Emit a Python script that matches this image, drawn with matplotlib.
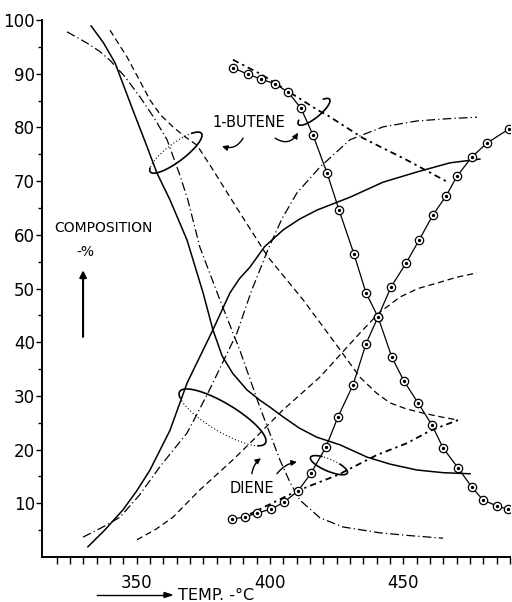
import numpy as np
import matplotlib.pyplot as plt
from matplotlib.transforms import IdentityTransform

plt.rcParams['font.family'] = ['DejaVu Sans']

# falling curves (1-butene)
but_solid_t = [332.9, 337.5, 341.9, 348.6, 353.9, 357.6, 362.5, 368.9, 374.9, 378.6,
               382.0, 386.0, 391.4, 396.2, 400.0, 404.9, 411.0, 417.6, 426.2, 436.4,
               445.0, 455.1, 465.0, 475.0]
but_solid_v = [98.9, 95.8, 92.0, 83.2, 76.4, 71.5, 66.5, 59.0, 49.2, 42.3,
               37.5, 34.2, 31.1, 29.2, 27.9, 26.1, 24.0, 22.3, 20.9, 18.6,
               17.3, 16.2, 15.7, 15.5]

but_dashdot_t = [323.9, 331.4, 336.0, 340.0, 345.5, 351.2, 356.5, 361.4, 366.2, 369.2,
                 373.7, 381.2, 388.7, 396.2, 403.7, 407.5, 411.2, 418.7, 427.3, 441.2,
                 452.0, 464.9]
but_dashdot_v = [97.8, 95.7, 94.2, 92.5, 89.5, 85.7, 81.8, 77.7, 71.1, 66.5,
                 57.7, 47.9, 38.5, 27.9, 18.1, 13.9, 10.6, 7.3, 5.6, 4.5,
                 4.0, 3.5]

but_dashed_t = [340.0, 346.4, 350.5, 355.0, 359.0, 363.6, 368.0, 372.6, 378.5, 385.0,
                399.2, 412.4, 423.6, 433.7, 440.0, 445.0, 451.0, 457.4, 464.0, 470.5]
but_dashed_v = [98.1, 93.1, 89.3, 85.1, 82.3, 80.1, 78.3, 76.7, 72.2, 67.0,
                55.9, 47.9, 40.4, 33.5, 30.5, 28.7, 27.6, 26.8, 26.1, 25.5]

but_circ_t = [386.1, 391.7, 396.6, 401.9, 406.7, 411.6, 416.1, 421.4, 425.9, 431.5,
              436.0, 440.5, 445.7, 450.2, 455.5, 460.7, 464.9, 470.5, 475.7, 479.9,
              485.1, 489.2]
but_circ_v = [91.1, 89.9, 89.0, 88.1, 86.6, 83.6, 78.6, 71.5, 64.6, 56.4,
              49.2, 44.7, 37.2, 32.8, 28.7, 24.6, 20.3, 16.6, 13.0, 10.6,
              9.5, 8.9]

but_dotdash_t = [386.1, 397.0, 407.5, 418.0, 421.4, 434.9, 451.4, 466.7]
but_dotdash_v = [92.6, 89.8, 86.5, 83.2, 82.3, 78.0, 73.9, 69.8]

# rising curves (diene)
die_solid_t = [331.7, 338.0, 344.9, 350.0, 355.0, 362.5, 368.9, 378.6, 385.0, 388.5,
               392.5, 398.0, 404.9, 411.0, 417.6, 430.0, 442.4, 455.1, 467.5, 478.7]
die_solid_v = [1.9, 5.0, 8.8, 12.3, 16.2, 23.6, 32.4, 42.3, 49.2, 51.8,
               54.0, 57.8, 60.9, 62.9, 64.6, 67.0, 69.8, 71.7, 73.4, 74.1]

die_dashdot_t = [329.9, 337.0, 343.7, 351.0, 358.7, 368.9, 376.4, 387.6, 393.0, 399.2,
                 404.5, 410.1, 418.7, 430.0, 442.4, 455.1, 466.0, 477.6]
die_dashdot_v = [3.7, 5.5, 7.4, 11.5, 16.8, 23.1, 30.2, 41.7, 49.5, 57.2,
                 63.0, 67.8, 72.6, 77.7, 80.1, 81.2, 81.6, 81.9]

die_dashed_t = [350.1, 357.0, 363.6, 373.7, 386.1, 392.5, 404.9, 418.7, 433.7, 441.0,
                448.7, 455.5, 462.6, 470.0, 477.6]
die_dashed_v = [3.2, 5.1, 7.4, 12.5, 18.1, 21.2, 27.4, 33.5, 41.7, 45.5,
                48.4, 50.0, 51.0, 52.1, 52.9]

die_circ_t = [385.7, 390.6, 395.1, 400.4, 405.2, 410.5, 415.4, 421.0, 425.5, 431.1,
              436.0, 440.5, 445.4, 451.0, 455.9, 461.1, 466.0, 470.1, 475.7, 481.4, 489.6]
die_circ_v = [7.1, 7.4, 8.2, 8.9, 10.2, 12.3, 15.6, 20.5, 26.1, 32.0,
              39.7, 44.7, 50.3, 54.7, 59.0, 63.7, 67.2, 70.9, 74.5, 77.1, 79.7]

die_dotdash_t = [392.5, 410.1, 425.5, 440.1, 451.4, 460.0, 470.5]
die_dotdash_v = [8.0, 12.3, 15.3, 19.0, 21.2, 23.5, 25.5]

DASHED = (0, (5, 3))
DASHDOT = (0, (7, 2.5, 1, 2.5))
DOTDASH = (0, (3.5, 2.2, 1.3, 2.2))


def loop(ax, t, v, a, b, ang, th0, th1, **kw):
    # ellipse drawn in pixels around a data point
    cx, cy = ax.transData.transform((t, v))
    th = np.radians(np.linspace(th0, th1, 120))
    r = np.radians(ang)
    x = cx + a * np.cos(th) * np.cos(r) - b * np.sin(th) * np.sin(r)
    y = cy + a * np.cos(th) * np.sin(r) + b * np.sin(th) * np.cos(r)
    ax.plot(x, y, transform=IdentityTransform(), clip_on=False, color='k', **kw)


def circles(ax, t, v):
    ax.plot(t, v, color='k', lw=0.9, marker='o', ms=6, mfc='white', mec='k', mew=0.9)
    ax.plot(t, v, ls='none', marker='o', ms=1.4, color='k')


fig = plt.figure(figsize=(5.12, 6.02), dpi=100)
ax = fig.add_axes([42 / 512, 45 / 602, 468 / 512, 537 / 602])
ax.set_xlim(314.5, 490)
ax.set_ylim(0, 100)
ax.set_autoscale_on(False)

lw = 1.1
ax.plot(but_solid_t, but_solid_v, color='k', lw=lw)
ax.plot(but_dashdot_t, but_dashdot_v, color='k', lw=0.9, ls=DASHDOT)
ax.plot(but_dashed_t, but_dashed_v, color='k', lw=0.9, ls=DASHED)
ax.plot(but_dotdash_t, but_dotdash_v, color='k', lw=1.3, ls=DOTDASH)
circles(ax, but_circ_t, but_circ_v)

ax.plot(die_solid_t, die_solid_v, color='k', lw=lw)
ax.plot(die_dashdot_t, die_dashdot_v, color='k', lw=0.9, ls=DASHDOT)
ax.plot(die_dashed_t, die_dashed_v, color='k', lw=0.9, ls=DASHED)
ax.plot(die_dotdash_t, die_dotdash_v, color='k', lw=1.3, ls=DOTDASH)
circles(ax, die_circ_t, die_circ_v)

# grouping loops
loop(ax, 364.7, 75.3, 32, 9, 37, 40, -200, lw=1.2)
loop(ax, 364.7, 75.3, 32, 9, 37, 40, 160, lw=0.8, ls=(0, (1, 2)))
loop(ax, 382.2, 26.0, 50, 14, -31, 200, -25, lw=1.2)
loop(ax, 382.2, 26.0, 50, 14, -31, -25, -160, lw=0.8, ls=(0, (1, 2)))
loop(ax, 416.5, 82.9, 20, 6, 39, 150, 400, lw=1.2)
loop(ax, 422.1, 17.1, 20, 6, -23, 120, 420, lw=1.2)
loop(ax, 422.1, 17.1, 20, 6, -23, 60, 120, lw=0.8, ls=(0, (1, 2)))

ax.text(392.1, 81.0, '1-BUTENE', fontsize=10.5, ha='center', va='center')
ax.text(393.2, 12.8, 'DIENE', fontsize=10.5, ha='center', va='center')
ax.text(337.7, 61.3, 'COMPOSITION', fontsize=10, ha='center', va='center')
ax.text(330.6, 56.8, '-%', fontsize=10, ha='center', va='center')

arr = dict(arrowstyle='-|>', color='k', lw=1.0, mutation_scale=8, shrinkA=0, shrinkB=0)
ax.annotate('', xy=(382.0, 76.5), xytext=(389.9, 78.0),
            arrowprops=dict(arr, connectionstyle='arc3,rad=-0.4'))
ax.annotate('', xy=(410.5, 79.0), xytext=(401.9, 78.0),
            arrowprops=dict(arr, connectionstyle='arc3,rad=0.5'))
ax.annotate('', xy=(396.6, 18.4), xytext=(393.2, 15.5),
            arrowprops=dict(arr, connectionstyle='arc3,rad=-0.2'))
ax.annotate('', xy=(410.1, 17.7), xytext=(402.6, 15.5),
            arrowprops=dict(arr, connectionstyle='arc3,rad=-0.2'))
ax.annotate('', xy=(329.9, 53.4), xytext=(329.9, 41.0),
            arrowprops=dict(arr, lw=1.5, mutation_scale=10))

# x label with arrow
fig.text(178 / 512, 7 / 602, 'TEMP. -°C', fontsize=11.5, ha='left', va='center')
fig.add_artist(plt.Line2D([97 / 512, 166 / 512], [7 / 602, 7 / 602], color='k', lw=1.0))
fig.patches.append(plt.Polygon([[164 / 512, 4.5 / 602], [172 / 512, 7 / 602], [164 / 512, 9.5 / 602]],
                               closed=True, color='k', transform=fig.transFigure, figure=fig))

for s in ['top', 'right']:
    ax.spines[s].set_visible(False)
for s in ['left', 'bottom']:
    ax.spines[s].set_linewidth(1.4)

ax.set_xticks([350, 400, 450])
ax.set_xticks(np.arange(320, 491, 5), minor=True)
ax.set_yticks(np.arange(10, 101, 10))
ax.set_yticks(np.arange(5, 100, 10), minor=True)
ax.tick_params(axis='x', which='both', direction='out', length=5, width=1.0, pad=7, labelsize=12)
ax.tick_params(axis='y', which='major', direction='out', length=4, width=1.0, pad=1, labelsize=12)
ax.tick_params(axis='y', which='minor', direction='out', length=3, width=1.0)

fig.savefig('out.png', dpi=100)
